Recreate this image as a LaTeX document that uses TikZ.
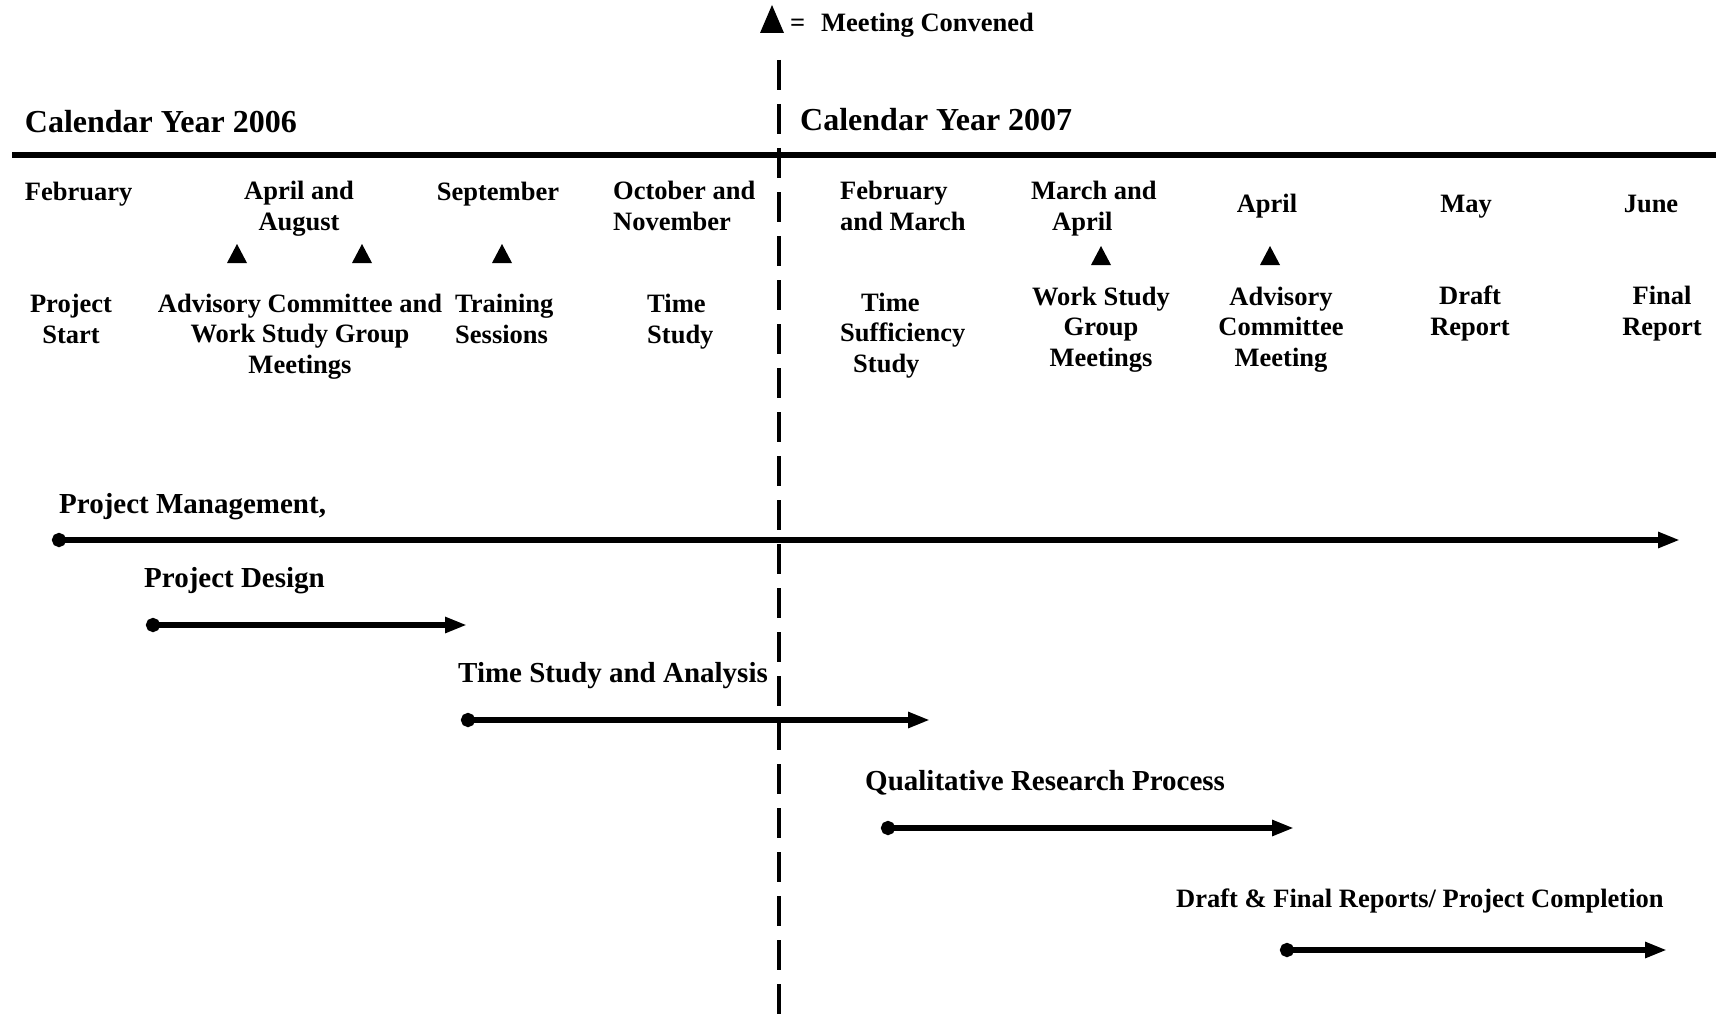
\documentclass[tikz,border=0pt]{standalone}
\usepackage{fontspec}
\setmainfont{Liberation Serif}
\usetikzlibrary{arrows.meta}
\begin{document}
\begin{tikzpicture}[x=1pt,y=-1pt,
  lab/.style={inner sep=0pt, font=\fontsize{26.5}{30.5}\selectfont\bfseries},
  yr/.style={inner sep=0pt, anchor=base west, font=\fontsize{32}{36}\selectfont\bfseries},
  barlab/.style={inner sep=0pt, anchor=base west, font=\fontsize{29}{33}\selectfont\bfseries},
  bar/.style={line width=6pt, {Circle[length=14pt]}-{Triangle[length=22pt,width=15pt]}},
  mtri/.pic={\fill (-10,0) -- (10,0) -- (0,-19) -- cycle;},
  legtri/.pic={\fill (-12,0) -- (12,0) -- (0,-28) -- cycle;}
]
\useasboundingbox (0,0) rectangle (1716,1014);

% legend
\pic (leg) at (772,33) {legtri};
\node[lab, anchor=base west] (legtxt) at (790,32) {=\hspace{0.6em}Meeting Convened};

% divider and rule
\coordinate (dtop) at (779,60);
\coordinate (dbot) at (779,1014);
\draw[line width=3.5pt, dash pattern=on 30pt off 14pt] (dtop) -- (dbot);
\coordinate (rl) at (12,155);
\coordinate (rr) at (1716,155);
\draw[line width=6pt] (rl) -- (rr);

% years
\node[yr] (y06) at (24.7,133) {Calendar Year 2006};
\node[yr] (y07) at (800,131) {Calendar Year 2007};

% months (anchor base = last line)
\node[lab, anchor=base west] (m1) at (24.7,200) {February};
\node[lab, anchor=base, align=center] (m2) at (299,230) {April and\\August};
\node[lab, anchor=base] (m3) at (498,200) {September};
\node[lab, anchor=base west, align=left] (m4) at (613,230) {October and\\November};
\node[lab, anchor=base west, align=left] (m5) at (840,230) {February\\and March};
\node[lab, anchor=base west, align=left] (m6) at (1031,230) {March and\\\hspace*{21pt}April};
\node[lab, anchor=base] (m7) at (1267,212) {April};
\node[lab, anchor=base] (m8) at (1466,212) {May};
\node[lab, anchor=base] (m9) at (1651,212) {June};

% meeting triangles
\pic (t1) at (237,263) {mtri};
\pic (t2) at (362,263) {mtri};
\pic (t3) at (502,263) {mtri};
\pic (t4) at (1101,265) {mtri};
\pic (t5) at (1270,265) {mtri};

% activities
\node[lab, anchor=base, align=center] (a1) at (71,343) {Project\\Start};
\node[lab, anchor=base, align=center] (a2) at (300,373) {Advisory Committee and\\Work Study Group\\Meetings};
\node[lab, anchor=base west, align=left] (a3) at (455,343) {Training\\Sessions};
\node[lab, anchor=base west, align=left] (a4) at (647,343) {Time\\Study};
\node[lab, anchor=base west, align=left] (a5) at (840,372) {\hspace*{21pt}Time\\Sufficiency\\\hspace*{13pt}Study};
\node[lab, anchor=base, align=center] (a6) at (1101,366) {Work Study\\Group\\Meetings};
\node[lab, anchor=base, align=center] (a7) at (1281,366) {Advisory\\Committee\\Meeting};
\node[lab, anchor=base, align=center] (a8) at (1470,335) {Draft\\Report};
\node[lab, anchor=base, align=center] (a9) at (1662,335) {Final\\Report};

% bars
\node[barlab] (b1) at (59,513) {Project Management,};
\coordinate (b1s) at (52,540); \coordinate (b1e) at (1680,540);
\draw[bar] (b1s) -- (b1e);

\node[barlab] (b2) at (144,587) {Project Design};
\coordinate (b2s) at (146,625); \coordinate (b2e) at (467,625);
\draw[bar] (b2s) -- (b2e);

\node[barlab] (b3) at (458,682) {Time Study and Analysis};
\coordinate (b3s) at (461,720); \coordinate (b3e) at (930,720);
\draw[bar] (b3s) -- (b3e);

\node[barlab] (b4) at (865,790) {Qualitative Research Process};
\coordinate (b4s) at (881,828); \coordinate (b4e) at (1294,828);
\draw[bar] (b4s) -- (b4e);

\node[lab, anchor=base west] (b5) at (1176,907) {Draft \& Final Reports/ Project Completion};
\coordinate (b5s) at (1280,950); \coordinate (b5e) at (1667,950);
\draw[bar] (b5s) -- (b5e);
\end{tikzpicture}
\end{document}
